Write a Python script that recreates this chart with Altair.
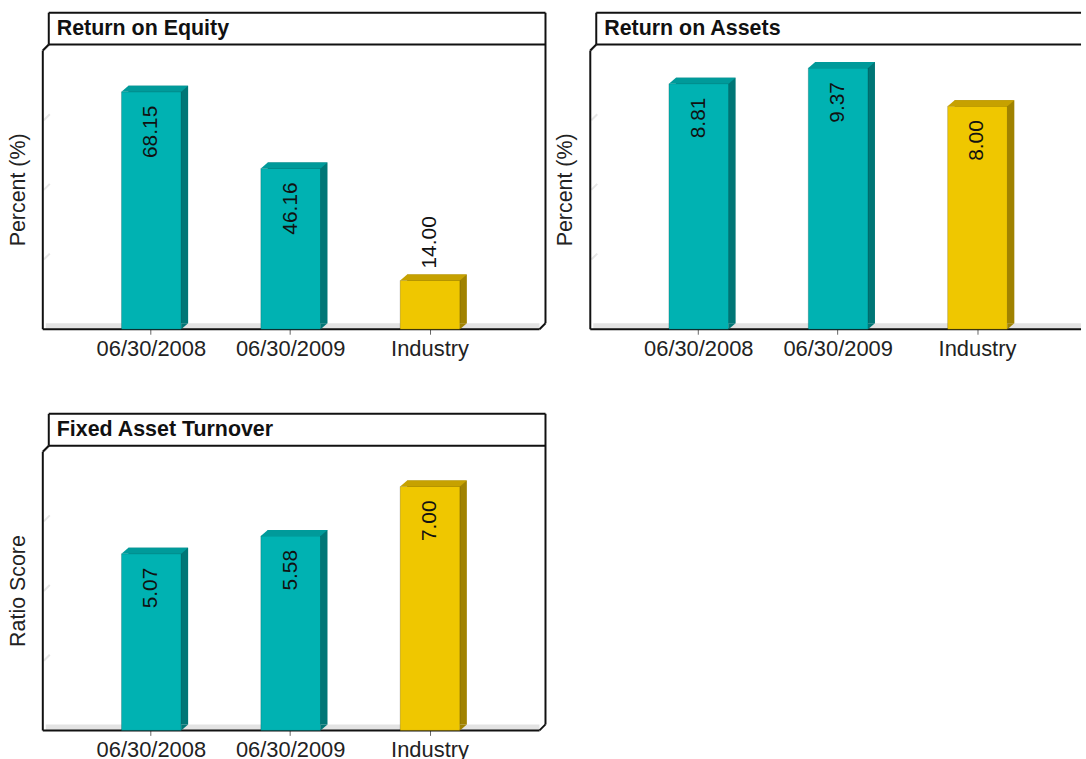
import altair as alt
import pandas as pd

# Chart data
categories = ["06/30/2008", "06/30/2009", "Industry"]
roe_values = [68.15, 46.16, 14.00]
roa_values = [8.81, 9.37, 8.00]
fat_values = [5.07, 5.58, 7.00]

panel_titles = ["Return on Equity", "Return on Assets", "Fixed Asset Turnover"]
axis_titles = ["Percent (%)", "Percent (%)", "Ratio Score"]
y_maxima = [80, 10, 8]
wall_steps = [20, 2.5, 2]

# Geometry of one panel (plot area in px) and the 3D extrusion
W, H = 498, 280
BAR_W = 60
DX, DY = 7, 6
FONT = "Liberation Sans"
BENCH = "Industry"
PAGE_W = 1086
COL_GAP, ROW_GAP = 52, 123
LEFT = 42

TEAL = {"front": "#00b2b2", "side": "#007676", "top": "#009a9a"}
GOLD = {"front": "#efc700", "side": "#a08200", "top": "#c6a100"}

step = 140
pad_inner = 1 - BAR_W / step
pad_outer = ((W / step) - len(categories) + pad_inner) / 2

top_path = (f"M{-BAR_W/2},0 L{-BAR_W/2+DX},{-DY} "
            f"L{BAR_W/2+DX},{-DY} L{BAR_W/2},0 Z")
foot_path = f"M{BAR_W/2},0 L{BAR_W/2+DX},{-DY} L{BAR_W/2},{-DY} Z"


def face(name):
    return alt.condition(alt.datum.cat == BENCH,
                         alt.value(GOLD[name]), alt.value(TEAL[name]))


def panel(values, title, ytitle, ymax, wall_step, clip=None):
    """One framed 3D bar panel; `clip` cuts the right side at that many px."""
    yscale = alt.Scale(domain=[0, ymax], nice=False, zero=True)
    xscale = alt.Scale(range=[0, W], paddingInner=pad_inner, paddingOuter=pad_outer)
    df = pd.DataFrame({
        "cat": categories,
        "value": values,
        "label": [f"{v:.2f}" for v in values],
    })
    # value labels go inside the bar when the bar is tall enough
    df["inside"] = [v / ymax * H > 80 for v in values]

    xenc = alt.X("cat:N", sort=categories, scale=xscale,
                 axis=alt.Axis(title=None, labelAngle=0, labelFontSize=22,
                               labelFont=FONT, labelColor="#222",
                               tickColor="#666", tickSize=5, tickWidth=1,
                               labelPadding=4, domain=False, grid=False))
    yenc = alt.Y("value:Q", scale=yscale, axis=None)

    right = W + 7 if clip is None else clip
    bottom_end = W + 1 if clip is None else clip

    one = pd.DataFrame({"t": [title], "yt": [ytitle]})
    base1 = alt.Chart(one)

    anchor = base1.mark_rule(color="white", strokeWidth=0.5).encode(
        x=alt.value(-LEFT), x2=alt.value(-LEFT + 1), y=alt.value(-48), y2=alt.value(-47))

    floor = base1.mark_rect(color="#e3e3e3").encode(
        x=alt.value(3), x2=alt.value(min(W + 3, bottom_end)),
        y=alt.value(H - DY), y2=alt.value(H))

    ticks = []
    v = wall_step
    while v <= ymax + 1e-9:
        ticks.append(v)
        v += wall_step
    stubs = alt.Chart(pd.DataFrame({"g": ticks})).mark_rule(
        color="#e6e6e6", strokeWidth=2, y2Offset=-DY).encode(
        x=alt.value(1), x2=alt.value(DX),
        y=alt.Y("g:Q", scale=yscale, axis=None), y2="g:Q")

    def seg(x1, y1, x2, y2):
        return base1.mark_rule(color="#111", strokeWidth=2).encode(
            x=alt.value(x1), y=alt.value(y1), x2=alt.value(x2), y2=alt.value(y2))

    frame = [
        seg(0, 0, 0, H),
        seg(0, 0, 6, -6),
        seg(0, H, bottom_end, H),
        seg(6, -38, right, -38),
        seg(6, -6, right, -6),
        seg(6, -38, 6, -6),
    ]
    if clip is None:
        frame += [
            seg(W + 1, H, W + 7, H - 6),
            seg(W + 7, H - 6, W + 7, -38),
        ]

    title_fill = base1.mark_rect(fill="white").encode(
        x=alt.value(6), x2=alt.value(right), y=alt.value(-38), y2=alt.value(-6))
    title_text = base1.mark_text(align="left", baseline="middle", font=FONT,
                                 fontSize=21.5, fontWeight="bold", color="#111").encode(
        x=alt.value(14), y=alt.value(-22), text="t:N")
    y_title = base1.mark_text(angle=270, align="center", baseline="middle",
                              font=FONT, fontSize=21.5, color="#222").encode(
        x=alt.value(-24), y=alt.value(H / 2), text="yt:N")

    base = alt.Chart(df)
    side = base.mark_bar(xOffset=DX, yOffset=-DY, y2Offset=-DY).encode(
        x=xenc, y=yenc, color=face("side"))
    front = base.mark_bar(stroke="black", strokeOpacity=0.18, strokeWidth=1).encode(
        x=xenc, y=yenc, color=face("front"))
    foot = base.mark_point(shape=foot_path, size=4, filled=True, opacity=1,
                           strokeWidth=0).encode(
        x=xenc, y=alt.value(H), color=face("side"))
    top = base.mark_point(shape=top_path, size=4, filled=True, opacity=1,
                          strokeWidth=0).encode(
        x=xenc, y=yenc, color=face("top"))

    lab_in = base.transform_filter("datum.inside").mark_text(
        angle=270, align="right", baseline="middle", yOffset=14,
        font=FONT, fontSize=21, color="#111").encode(x=xenc, y=yenc, text="label:N")
    lab_out = base.transform_filter("!datum.inside").mark_text(
        angle=270, align="left", baseline="middle", yOffset=-12,
        font=FONT, fontSize=21, color="#111").encode(x=xenc, y=yenc, text="label:N")

    width = W if clip is None else clip
    return alt.layer(anchor, floor, stubs, title_fill, *frame, title_text, y_title,
                     side, front, foot, top, lab_in, lab_out).properties(
        width=width, height=H)


# the second column runs off the right edge of the page
clip2 = PAGE_W - 1 - (LEFT + W + COL_GAP)

panels = [
    panel(roe_values, panel_titles[0], axis_titles[0], y_maxima[0], wall_steps[0]),
    panel(roa_values, panel_titles[1], axis_titles[1], y_maxima[1], wall_steps[1],
          clip=clip2),
    panel(fat_values, panel_titles[2], axis_titles[2], y_maxima[2], wall_steps[2]),
]

chart = alt.concat(*panels, columns=2, spacing={"row": ROW_GAP, "column": COL_GAP},
                   bounds="flush").configure_view(stroke=None).properties(
    padding=0, background="white")

chart.save("out.html", embed_options={"renderer": "svg", "actions": False})
